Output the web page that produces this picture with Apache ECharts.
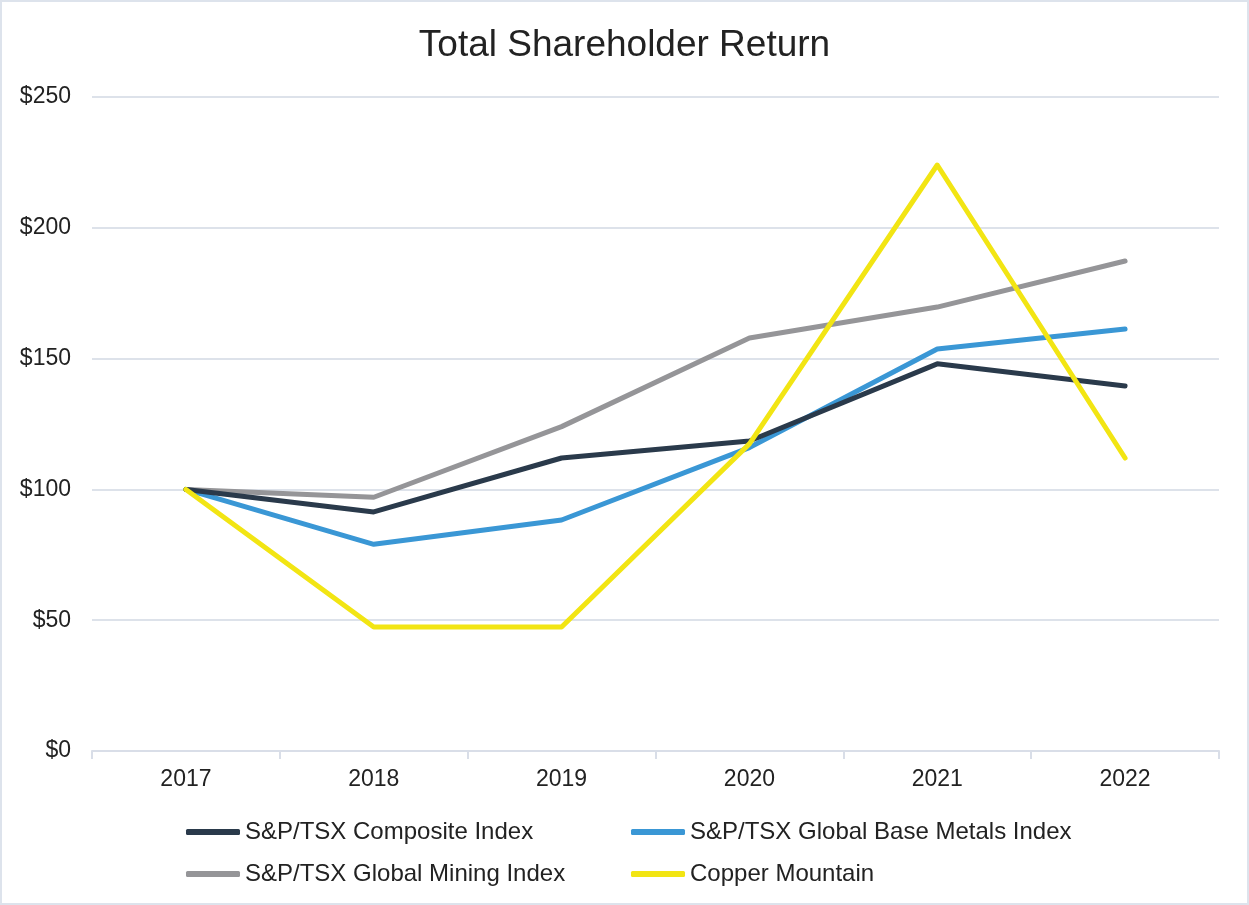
<!DOCTYPE html>
<html>
<head>
<meta charset="utf-8">
<script src="https://cdn.jsdelivr.net/npm/echarts@6/dist/echarts.min.js"></script>
<style>
html,body{margin:0;padding:0;background:#fff;}
#frame{position:absolute;left:0;top:0;width:1245px;height:901px;border:2px solid #dde3ec;}
#chart{position:absolute;left:0;top:0;width:1249px;height:905px;}
</style>
</head>
<body>
<div id="frame"></div>
<div id="chart"></div>
<script>
const years = ['2017','2018','2019','2020','2021','2022'];
const composite = [100, 91.4, 112, 118.5, 148, 139.5];
const baseMetals = [100, 79, 88.3, 116, 153.7, 161.3];
const mining = [100, 97, 124, 157.9, 169.7, 187.3];
const copper = [100, 47.4, 47.4, 117.4, 224, 112];
const seriesNames = ['S&P/TSX Composite Index','S&P/TSX Global Base Metals Index','S&P/TSX Global Mining Index','Copper Mountain'];
const colors = ['#2a3a4b','#3a97d5','#959598','#f2e513'];

const chart = echarts.init(document.getElementById('chart'));
const font = 'Liberation Sans, Arial, sans-serif';
const legendPos = [[186,820],[631,820],[186,862],[631,862]];
const mk = (name, data, color, z) => ({
  name, type:'line', data, symbol:'none', z,
  lineStyle:{color, width:5, cap:'round', join:'round'},
  itemStyle:{color}
});
chart.setOption({
  animation:false,
  title:{text:'Total Shareholder Return', left:'center', top:27, padding:0,
    textStyle:{fontFamily:font, fontSize:37, fontWeight:'normal', color:'#222'}},
  grid:{left:92, right:30, top:97, bottom:154, containLabel:false},
  xAxis:{type:'category', data:years, boundaryGap:true,
    axisLine:{lineStyle:{color:'#d9dee8', width:2}},
    axisTick:{show:true, length:8, lineStyle:{color:'#d9dee8', width:2}},
    axisLabel:{fontFamily:font, fontSize:23, color:'#222', margin:17}},
  yAxis:{type:'value', min:0, max:250, interval:50,
    axisLine:{show:false}, axisTick:{show:false},
    splitLine:{lineStyle:{color:'#dde2ea', width:2}},
    axisLabel:{fontFamily:font, fontSize:23, color:'#222', margin:21,
      padding:[4,0,0,0], formatter: v => '$' + v}},
  legend: seriesNames.map((n,i)=>({
    data:[n], left:legendPos[i][0], top:legendPos[i][1], icon:'roundRect',
    padding:0, itemWidth:54, itemHeight:6, itemGap:0,
    textStyle:{fontFamily:font, fontSize:24, color:'#222'}
  })),
  series:[
    mk(seriesNames[0], composite, colors[0], 4),
    mk(seriesNames[1], baseMetals, colors[1], 3),
    mk(seriesNames[2], mining, colors[2], 2),
    mk(seriesNames[3], copper, colors[3], 5)
  ]
});
</script>
</body>
</html>
